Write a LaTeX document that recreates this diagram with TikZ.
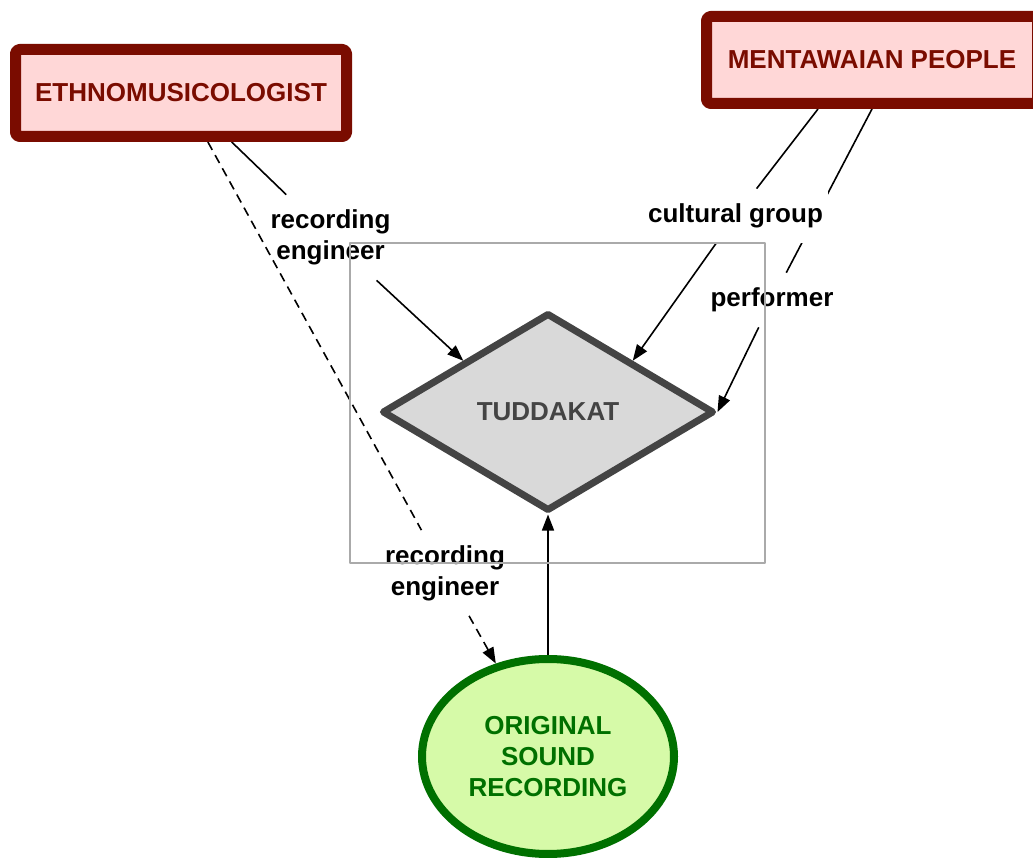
\documentclass[tikz,border=0pt]{standalone}
\usepackage{fontspec}
\setmainfont{Liberation Sans}
\usepackage{tikz}
\usetikzlibrary{shapes,arrows.meta,backgrounds}

\definecolor{boxred}{RGB}{122,12,0}
\definecolor{boxpink}{RGB}{255,215,215}
\definecolor{diagray}{RGB}{68,68,68}
\definecolor{diafill}{RGB}{217,217,217}
\definecolor{recgreen}{RGB}{0,112,0}
\definecolor{recfill}{RGB}{214,250,168}
\definecolor{framegray}{RGB}{170,170,170}

\begin{document}
\begin{tikzpicture}[>={Triangle[length=16bp,width=12bp]},line join=bevel,
  font=\fontsize{26bp}{31bp}\selectfont\bfseries,
  actor/.style={draw=boxred,line width=11bp,fill=boxpink,text=boxred,rounded corners=4bp,minimum width=331bp,minimum height=87bp},
  work/.style={diamond,draw=diagray,line width=7bp,line join=round,fill=diafill,text=diagray,minimum width=332bp,minimum height=198bp,inner sep=0pt},
  item/.style={ellipse,draw=recgreen,line width=8bp,fill=recfill,text=recgreen,minimum width=252bp,minimum height=195bp,align=center},
  role/.style={align=center,inner xsep=5bp,inner ysep=15bp},
  link/.style={line width=1.6bp},
]
%%
\useasboundingbox (0bp,0bp) rectangle (1033bp,861bp);
\clip (0bp,0bp) rectangle (1033bp,861bp);
  \node (ethno) at (181bp,768bp) [actor] {ETHNOMUSICOLOGIST};
  \node (ment) at (872bp,801bp) [actor] {MENTAWAIAN PEOPLE};
  \node (tud) at (548bp,449bp) [work] {TUDDAKAT};
  \node (orig) at (548bp,104.5bp) [item] {ORIGINAL\\SOUND\\RECORDING};
  \node (lblA) at (330.5bp,623.5bp) [role] {recording\\engineer};
  \node (lblB) at (735.5bp,645bp) [role,fill=white] {cultural group};
  \node (lblC) at (772bp,561bp) [role] {performer};
  \node (lblD) at (445bp,288bp) [role] {recording\\engineer};
\begin{scope}[on background layer]
  \draw [link] (ethno) -- (lblA);
  \draw [link,->] (lblA) -- (tud.north west);
  \draw [link,dash pattern=on 9bp off 6bp] (ethno) -- (lblD);
  \draw [link,dash pattern=on 9bp off 6bp,->] (lblD) -- (orig);
  \draw [link] ([xshift=-54bp]ment.south) -- (lblB);
  \draw [link,->] (lblB) -- (tud.north east);
  \draw [link] (ment.south) -- (lblC);
  \draw [link,->] (lblC) -- (tud.east);
  \draw [link,->] (orig) -- (tud);
\end{scope}
  \node (grp) at (557.5bp,458bp) [draw=framegray,line width=1.2bp,minimum width=415bp,minimum height=320bp] {};
%
\end{tikzpicture}
\end{document}
